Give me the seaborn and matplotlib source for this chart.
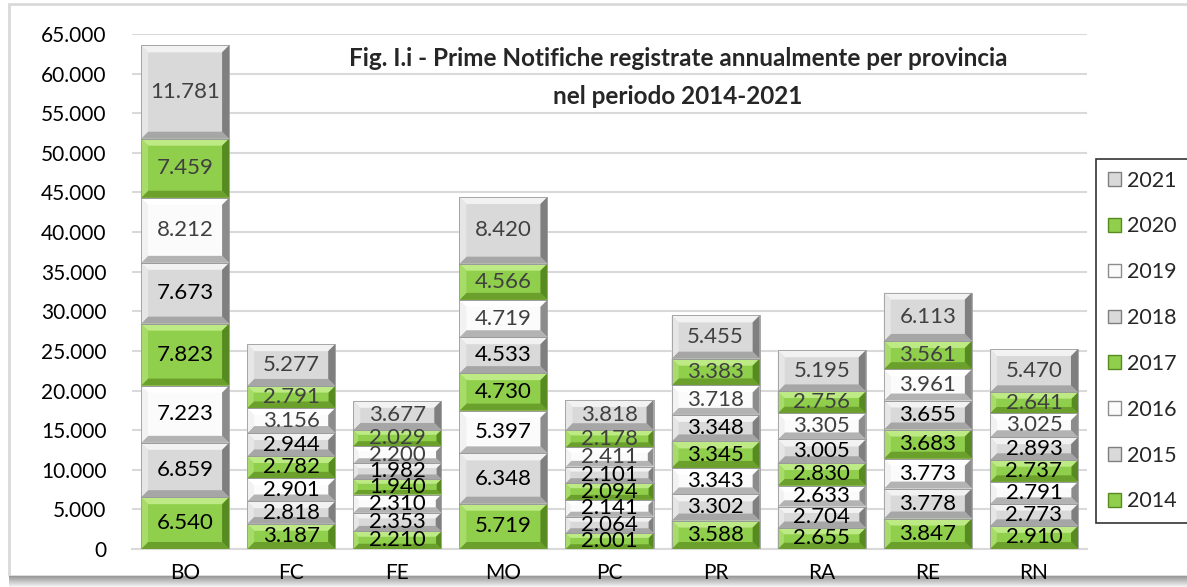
import numpy as np
import pandas as pd
import matplotlib
matplotlib.use("Agg")
import matplotlib.pyplot as plt
from matplotlib.patches import Polygon, Rectangle
import seaborn as sns

provinces = ["BO", "FC", "FE", "MO", "PC", "PR", "RA", "RE", "RN"]
years = ["2014", "2015", "2016", "2017", "2018", "2019", "2020", "2021"]
v2014 = [6540, 3187, 2210, 5719, 2001, 3588, 2655, 3847, 2910]
v2015 = [6859, 2818, 2353, 6348, 2064, 3302, 2704, 3778, 2773]
v2016 = [7223, 2901, 2310, 5397, 2141, 3343, 2633, 3773, 2791]
v2017 = [7823, 2782, 1940, 4730, 2094, 3345, 2830, 3683, 2737]
v2018 = [7673, 2944, 1982, 4533, 2101, 3348, 3005, 3655, 2893]
v2019 = [8212, 3156, 2200, 4719, 2411, 3718, 3305, 3961, 3025]
v2020 = [7459, 2791, 2029, 4566, 2178, 3383, 2756, 3561, 2641]
v2021 = [11781, 5277, 3677, 8420, 3818, 5455, 5195, 6113, 5470]
series = [v2014, v2015, v2016, v2017, v2018, v2019, v2020, v2021]
title_lines = ["Fig. I.i - Prime Notifiche registrate annualmente per provincia",
               "nel periodo 2014-2021"]

# style per year: (face, top, left, right, bottom)
GREEN = ("#90CF4C", "#BDEA85", "#A8DC6A", "#578A20", "#6BA02D")
GRAY = ("#D9D9D9", "#F2F2F2", "#E6E6E6", "#7F7F7F", "#A6A6A6")
WHITE = ("#FBFBFB", "#FFFFFF", "#F2F2F2", "#8C8C8C", "#B3B3B3")
styles = [GREEN, GRAY, WHITE, GREEN, GRAY, WHITE, GREEN, GRAY]
text_colors = ["black"] * 5 + ["#404040"] * 3

sns.set_theme(style="white")
plt.rcParams["font.family"] = ["Lato", "DejaVu Sans"]

fig = plt.figure(figsize=(11.87, 5.87), dpi=100)

# outer chart border and bottom shadow (drawn behind everything)
fig.patches.append(Rectangle((9 / 1187, 1 - 576 / 587), 1, 572 / 587, transform=fig.transFigure,
                             facecolor="none", edgecolor="#D9D9D9", linewidth=2, zorder=-5))
n_sh = 11
for k in range(n_sh):
    g = 0.6 + 0.35 * k / (n_sh - 1)
    fig.patches.append(Rectangle((9 / 1187, (n_sh - 1 - k) / 587), 1, 1 / 587,
                                 transform=fig.transFigure, facecolor=(g, g, g),
                                 edgecolor="none", zorder=-5))

ax = fig.add_axes([132 / 1187, 1 - 549 / 587, 955 / 1187, 515 / 587])
ax.patch.set_alpha(0)
ax.set_zorder(2)

df = pd.DataFrame({"prov": provinces})
cum = np.cumsum(np.array(series), axis=0)
for i, y in enumerate(years):
    df[y] = cum[i]

# draw from the tallest cumulative down so lower layers cover
layer_patches = {}
for i in range(len(years) - 1, -1, -1):
    n_before = len(ax.patches)
    sns.barplot(data=df, x="prov", y=years[i], order=provinces, color=styles[i][0],
                width=0.83, ax=ax, saturation=1, linewidth=0, zorder=2)
    layer_patches[i] = ax.patches[n_before:]

ax.set_ylim(0, 65000)
ax.set_xlim(-0.5, len(provinces) - 0.5)

# pixel -> data conversion for bevels
dx_per_px = (len(provinces)) / 955.0
dy_per_px = 65000 / 515.0

for i in range(len(years)):
    for j, p in enumerate(layer_patches[i]):
        bottom = cum[i - 1][j] if i > 0 else 0
        h = series[i][j]
        p.set_y(bottom)
        p.set_height(h)
        x0 = p.get_x()
        x1 = x0 + p.get_width()
        y0 = bottom
        y1 = bottom + h
        h_px = h / dy_per_px
        b = min(7.0, h_px * 0.3)
        bx = b * dx_per_px
        by = b * dy_per_px
        face, top, left, right, bot = styles[i]
        polys = [
            ([(x0, y1), (x1, y1), (x1 - bx, y1 - by), (x0 + bx, y1 - by)], top),
            ([(x0, y0), (x1, y0), (x1 - bx, y0 + by), (x0 + bx, y0 + by)], bot),
            ([(x0, y0), (x0, y1), (x0 + bx, y1 - by), (x0 + bx, y0 + by)], left),
            ([(x1, y0), (x1, y1), (x1 - bx, y1 - by), (x1 - bx, y0 + by)], right),
        ]
        for pts, col in polys:
            ax.add_patch(Polygon(pts, closed=True, facecolor=col, edgecolor="none", zorder=3))
        ax.add_patch(Rectangle((x0, y0), x1 - x0, h, facecolor="none",
                               edgecolor="#9A9A9A", linewidth=0.6, zorder=3.5))
        ax.text((x0 + x1) / 2, y0 + h / 2, f"{h:,}".replace(",", "."),
                ha="center", va="center", fontsize=16, color=text_colors[i], zorder=4)

# axes styling
ax.set_yticks(np.arange(0, 65001, 5000))
ax.set_yticklabels([f"{int(t):,}".replace(",", ".") for t in np.arange(0, 65001, 5000)])
ax.yaxis.grid(True, color="#D9D9D9", linewidth=1.5, zorder=0)
ax.set_axisbelow(True)
for s in ["left", "right", "top"]:
    ax.spines[s].set_visible(False)
ax.spines["bottom"].set_color("#D9D9D9")
ax.spines["bottom"].set_linewidth(1.5)
ax.tick_params(axis="both", length=0, labelsize=15, colors="black")
ax.tick_params(axis="y", pad=18.5)
ax.tick_params(axis="x", pad=10)
ax.set_xlabel("")
ax.set_ylabel("")

# title
fig.text(678 / 1187, 1 - 58 / 587, title_lines[0], ha="center", va="center",
         fontsize=17.5, fontweight="bold")
fig.text(678 / 1187, 1 - 96 / 587, title_lines[1], ha="center", va="center",
         fontsize=17.5, fontweight="bold")

# legend
handles = []
labels = []
for i in range(len(years) - 1, -1, -1):
    handles.append(Rectangle((0, 0), 1, 1, facecolor=styles[i][0], edgecolor=styles[i][3], linewidth=1))
    labels.append(years[i])
leg = fig.legend(handles, labels, loc="center left", bbox_to_anchor=(1096 / 1187, 1 - 341 / 587),
                 fontsize=15.5, frameon=True, fancybox=False, handlelength=0.6, handleheight=0.6,
                 handletextpad=0.3, labelspacing=1.2, borderpad=0.55, borderaxespad=0)
leg.get_frame().set_edgecolor("black")
leg.get_frame().set_linewidth(1.2)

fig.savefig("out.png", dpi=100)
